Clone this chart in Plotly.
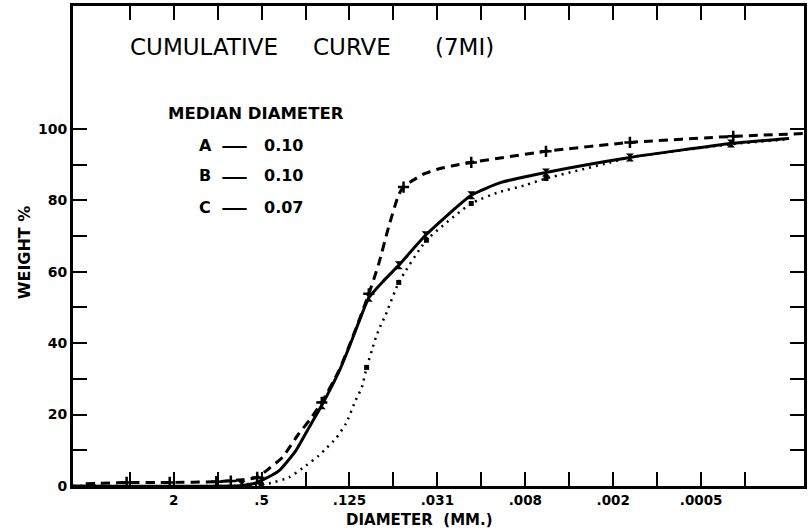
import plotly.graph_objects as go

# ---------------- data (x in phi units, y in cumulative weight %) ----------------
# Curve A (dashed, "+" markers)
a_line_phi = [-3.0, -2.07, -1.09, -0.03, 0.61, 0.90, 1.17, 1.47, 1.85, 2.10, 2.37, 2.76, 2.98, 3.20,
              3.44, 3.66, 3.89, 4.12, 4.23, 4.38, 4.68, 5.0, 5.32, 5.77, 7.47, 9.38, 11.73, 13.34]
a_line_pct = [0.6, 1.0, 1.0, 1.2, 1.8, 2.4, 4.9, 8.0, 14.7, 18.6, 23.4, 32.3, 38.8, 45.8,
              53.8, 62.0, 72.5, 81.6, 83.7, 85.1, 87.3, 88.7, 89.6, 90.6, 93.7, 96.2, 97.9, 98.7]
a_pts_phi = [-2.07, -1.09, -0.03, 0.30, 0.90, 2.37, 3.44, 4.23, 5.77, 7.47, 9.38, 11.73]
a_pts_pct = [1.0, 1.0, 1.2, 1.4, 2.4, 23.4, 53.8, 83.7, 90.6, 93.7, 96.2, 97.9]

# Curve B (solid, filled markers)
b_line_phi = [-3.29, 0.49, 0.83, 0.99, 1.40, 1.78, 2.08, 2.37, 2.76, 2.98, 3.20, 3.44,
              3.78, 4.12, 4.73, 5.77, 6.45, 7.47, 9.38, 11.68, 13.0]
b_line_pct = [0.0, 0.1, 0.7, 1.5, 4.3, 9.9, 16.4, 22.6, 32.0, 38.5, 45.5, 52.7,
              57.5, 61.8, 70.2, 81.4, 85.0, 87.8, 92.0, 95.9, 97.3]
b_pts_phi = [0.55, 0.99, 2.37, 3.44, 4.12, 4.73, 5.77, 7.47, 9.38, 11.68]
b_pts_pct = [0.3, 1.5, 22.6, 52.7, 61.8, 70.2, 81.4, 87.8, 92.0, 95.9]

# Curve C (dotted, square markers)
c_line_phi = [-3.29, 0.72, 1.17, 1.62, 2.01, 2.30, 2.49, 2.69, 2.92, 3.14, 3.28, 3.39, 3.51, 3.60,
              3.71, 3.82, 4.12, 4.75, 5.77, 6.38, 6.99, 7.47, 8.94, 9.38, 11.68, 13.0]
c_line_pct = [0.0, 0.1, 0.7, 2.4, 5.7, 8.5, 10.8, 13.3, 17.5, 24.0, 27.6, 33.2, 38.0, 41.6,
              45.0, 47.8, 57.0, 68.8, 79.1, 82.2, 84.2, 86.1, 90.6, 92.0, 95.7, 97.1]
c_pts_phi = [0.72, 0.99, 3.39, 4.12, 4.75, 5.77, 7.47]
c_pts_pct = [0.2, 0.4, 33.2, 57.0, 68.8, 79.1, 86.1]

# axis ticks
x_tick_phi = list(range(-2, 13))
x_label_phi = [-1, 1, 3, 5, 7, 9, 11]
x_labels = ["2", ".5", ".125", ".031", ".008", ".002", ".0005"]
y_tick_vals = list(range(0, 101, 10))
y_label_vals = [0, 20, 40, 60, 80, 100]

legend_letters = ["A", "B", "C"]
legend_medians = ["0.10", "0.10", "0.07"]

# ---------------- figure ----------------
W, H = 809, 530
ML, MR, MT, MB = 73, 2, 6, 44
PW, PH = W - ML - MR, H - MT - MB


def px(x):
    return (x - ML) / PW


def py(y):
    return (H - MB - y) / PH


fig = go.Figure()
black = "black"

fig.add_trace(go.Scatter(x=a_line_phi, y=a_line_pct, mode="lines",
                         line=dict(color=black, width=3, dash="9px,6px", shape="spline", smoothing=0.5),
                         hoverinfo="skip", showlegend=False))
fig.add_trace(go.Scatter(x=b_line_phi, y=b_line_pct, mode="lines",
                         line=dict(color=black, width=3, shape="spline", smoothing=0.5),
                         hoverinfo="skip", showlegend=False))
fig.add_trace(go.Scatter(x=c_line_phi, y=c_line_pct, mode="lines",
                         line=dict(color=black, width=2.5, dash="2px,5px", shape="spline", smoothing=0.5),
                         hoverinfo="skip", showlegend=False))

fig.add_trace(go.Scatter(x=a_pts_phi, y=a_pts_pct, mode="markers", name="A",
                         marker=dict(symbol="cross-thin", size=8, line=dict(color=black, width=2.5)),
                         showlegend=False))
fig.add_trace(go.Scatter(x=b_pts_phi, y=b_pts_pct, mode="markers", name="B",
                         marker=dict(symbol="hourglass", size=8, color=black),
                         showlegend=False))
fig.add_trace(go.Scatter(x=c_pts_phi, y=c_pts_pct, mode="markers", name="C",
                         marker=dict(symbol="square", size=5, color=black),
                         showlegend=False))

tick_font = dict(family="DejaVu Sans", size=14, color=black, weight="bold")

fig.update_xaxes(range=[-3.29, 13.34], tickmode="array", tickvals=x_tick_phi,
                 ticktext=[x_labels[x_label_phi.index(v)] if v in x_label_phi else "" for v in x_tick_phi],
                 ticks="inside", ticklen=14, tickwidth=2, tickcolor=black,
                 showline=True, linewidth=3, linecolor=black, mirror="ticks",
                 showgrid=False, zeroline=False, tickfont=dict(family="DejaVu Sans", size=13.5,
                                                               color=black, weight="bold"))
fig.update_yaxes(range=[0, 134.4], tickmode="array", tickvals=y_tick_vals,
                 ticktext=[str(v) if v in y_label_vals else "" for v in y_tick_vals],
                 ticks="inside", ticklen=14, tickwidth=2, tickcolor=black,
                 showline=True, linewidth=3, linecolor=black, mirror="ticks",
                 showgrid=False, zeroline=False, tickfont=tick_font)

ann = []
# title words
for txt, cx in [("CUMULATIVE", 205), ("CURVE", 353), ("(7MI)", 466)]:
    ann.append(dict(text=txt, x=px(cx), y=py(47), xref="paper", yref="paper", showarrow=False,
                    font=dict(family="DejaVu Sans", size=23, color=black), xanchor="center", yanchor="middle"))
# legend block
ann.append(dict(text="MEDIAN DIAMETER", x=px(257), y=py(113), xref="paper", yref="paper", showarrow=False,
                font=dict(family="DejaVu Sans", size=16.5, color=black, weight="bold"),
                xanchor="center", yanchor="middle"))
for i, (lt, md) in enumerate(zip(legend_letters, legend_medians)):
    yy = [145, 176, 208][i]
    ann.append(dict(text=lt, x=px(206), y=py(yy), xref="paper", yref="paper", showarrow=False,
                    font=dict(family="DejaVu Sans", size=16, color=black, weight="bold"),
                    xanchor="center", yanchor="middle"))
    ann.append(dict(text="\u2014", x=px(235), y=py(yy - 1), xref="paper", yref="paper", showarrow=False,
                    font=dict(family="DejaVu Sans", size=27, color=black),
                    xanchor="center", yanchor="middle"))
    ann.append(dict(text=md, x=px(284), y=py(yy), xref="paper", yref="paper", showarrow=False,
                    font=dict(family="DejaVu Sans", size=16, color=black, weight="bold"),
                    xanchor="center", yanchor="middle"))
# axis titles
ann.append(dict(text="DIAMETER  (MM.)", x=px(421), y=py(530), xref="paper", yref="paper",
                showarrow=False, font=dict(family="DejaVu Sans", size=15, color=black, weight="bold"),
                xanchor="center", yanchor="bottom", borderpad=0))
ann.append(dict(text="WEIGHT %", x=px(25), y=py(252), xref="paper", yref="paper", showarrow=False,
                textangle=-90, font=dict(family="DejaVu Sans", size=16, color=black, weight="bold"),
                xanchor="center", yanchor="middle"))

fig.update_layout(width=W, height=H, margin=dict(l=ML, r=MR, t=MT, b=MB),
                  paper_bgcolor="white", plot_bgcolor="white", annotations=ann, showlegend=False)

fig.write_html("out.html")
